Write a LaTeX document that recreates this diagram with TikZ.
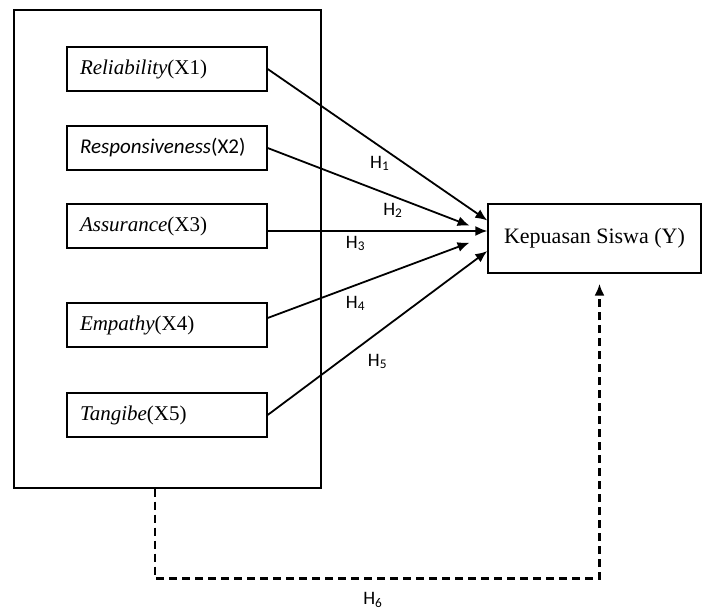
\documentclass[tikz,border=0pt]{standalone}
\usepackage{fontspec}
\setmainfont{Liberation Serif}
\newfontfamily\calibri{Carlito}
\usetikzlibrary{positioning,calc,arrows.meta}

\begin{document}
\begin{tikzpicture}[
    x=1pt,
    y=1pt,
    font=\fontsize{21}{25}\selectfont,
    dimbox/.style={
        draw,
        line width=1.3pt,
        text width=174pt,
        inner xsep=13pt,
        minimum height=44pt,
        align=left
    },
    outcome/.style={
        draw,
        line width=1.3pt,
        minimum width=213pt,
        minimum height=69pt,
        font=\fontsize{22}{26}\selectfont
    },
    hyp/.style={
        draw,
        -{Latex[length=12pt,width=10pt]},
        line width=1.8pt
    },
    hdash/.style={
        draw,
        -{Latex[length=12pt,width=10pt]},
        line width=2.6pt,
        dash pattern=on 8pt off 5pt
    },
    hlabel/.style={
        font=\calibri\fontsize{19}{21}\selectfont,
        inner sep=1pt
    }
]
    \useasboundingbox (0,0) rectangle (706,610);

    % frame round the dimensions
    \node[draw,line width=1.3pt,minimum width=307pt,minimum height=478pt,inner sep=0pt] (frame) at (167.5,361) {};

    % dimensions
    \node[dimbox] (x1) at (167,541) {\textit{Reliability}(X1)};
    \node[dimbox] (x2) at (167,462) {{\calibri\textit{Responsiveness}(X2)}};
    \node[dimbox] (x3) at (167,384) {\textit{Assurance}(X3)};
    \node[dimbox] (x4) at (167,285) {\textit{Empathy}(X4)};
    \node[dimbox] (x5) at (167,195) {\textit{Tangibe}(X5)};

    % outcome
    \node[outcome] (y) at (594.5,371.5) {Kepuasan Siswa (Y)};

    % hypotheses
    \draw[hyp] (x1.east) -- ([yshift=18pt]y.west)
        node[hlabel,pos=0.51,below=8pt] {H\textsubscript{1}};
    \draw[hyp,shorten >=19pt] (x2.east) -- ([yshift=6pt]y.west)
        node[hlabel,pos=0.57,below=5pt] {H\textsubscript{2}};
    \draw[hyp] ([yshift=-5pt]x3.east) -- ([yshift=7.5pt]y.west)
        node[hlabel,pos=0.40,below=3pt] {H\textsubscript{3}};
    \draw[hyp,shorten >=19pt] ([yshift=7pt]x4.east) -- ([yshift=2.5pt]y.west)
        node[hlabel,pos=0.40,below=9pt] {H\textsubscript{4}};
    \draw[hyp] (x5.east) -- ([yshift=-12.5pt]y.west)
        node[hlabel,pos=0.50,below=19pt] {H\textsubscript{5}};

    % simultaneous effect
    \draw[hdash] ([xshift=-12.5pt]frame.south) -- ++(0,-90)
        -| node[hlabel,pos=0.245,below=11pt] {H\textsubscript{6}}
        ([xshift=5pt,yshift=-10pt]y.south);
\end{tikzpicture}
\end{document}
